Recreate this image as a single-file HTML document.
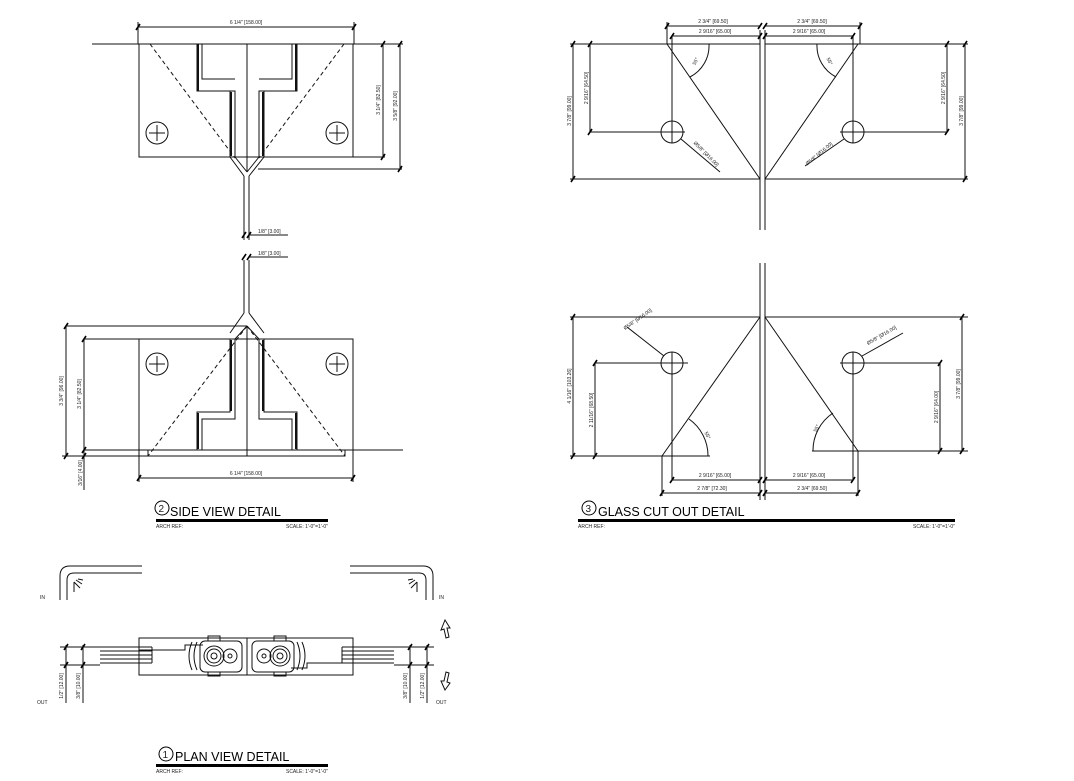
<!DOCTYPE html>
<html><head><meta charset="utf-8"><style>
html,body{margin:0;padding:0;background:#fff;}
svg{display:block;}
text{font-family:"Liberation Sans",sans-serif;fill:#222;}
.s{font-size:5px;}
.t{font-size:12.5px;fill:#000;}
</style></head><body>
<svg width="1074" height="781" viewBox="0 0 1074 781" xmlns="http://www.w3.org/2000/svg">
<g stroke="#111" stroke-width="1" fill="none">
<!-- ===== SIDE VIEW TOP ===== -->
<line x1="92" y1="44" x2="403" y2="44"/>
<rect x="139" y="44" width="214" height="113"/>
<line x1="247" y1="44" x2="247" y2="172"/>
<path d="M197 44V91H235V157M202 44V79H235M230 91V157"/>
<path d="M297 44V91H259V157M292 44V79H259M264 91V157"/>
<path d="M198 44V91M296 44V91M231 92V156M263 92V156" stroke-width="2"/>
<path d="M150 44L235 158M344 44L259 158" stroke-dasharray="4,3"/>
<path d="M230 157L244 176M235 157L247 172M264 157L249 176M259 157L247 172"/>
<path d="M244 176V240M249 176V240"/>
<circle cx="157" cy="133" r="11"/><path d="M149 133H165M157 125V141"/>
<circle cx="337" cy="133" r="11"/><path d="M329 133H345M337 125V141"/>
<line x1="138" y1="27" x2="354" y2="27"/>
<path d="M138 22V44M354 22V44"/>
<line x1="383" y1="44" x2="383" y2="157"/>
<line x1="400" y1="44" x2="400" y2="169"/>
<line x1="258" y1="169" x2="402" y2="169"/>
<line x1="353" y1="157" x2="385" y2="157"/>
<line x1="249" y1="235" x2="288" y2="235"/>
<!-- ===== SIDE VIEW BOTTOM ===== -->
<line x1="249" y1="257" x2="288" y2="257"/>
<path d="M244 260V313M249 260V313"/>
<path d="M244 313L230 333M249 313L264 333M247 326L235 339M247 326L259 339"/>
<line x1="247" y1="326" x2="247" y2="456"/>
<rect x="139" y="339" width="214" height="111"/>
<line x1="84" y1="450" x2="403" y2="450"/>
<rect x="148" y="450" width="197" height="6"/>
<path d="M230 339V412H197V450M235 339V419H202V450M264 339V412H297V450M259 339V419H292V450"/>
<path d="M231 340V411M198 413V449M263 340V411M296 413V449" stroke-width="2"/>
<path d="M247 326L148 456M247 326L345 456" stroke-dasharray="4,3"/>
<circle cx="157" cy="364" r="11"/><path d="M149 364H165M157 356V372"/>
<circle cx="337" cy="364" r="11"/><path d="M329 364H345M337 356V372"/>
<line x1="66" y1="326" x2="247" y2="326"/>
<line x1="84" y1="339" x2="139" y2="339"/>
<line x1="66" y1="326" x2="66" y2="456"/>
<line x1="84" y1="339" x2="84" y2="490"/>
<line x1="62" y1="456" x2="148" y2="456"/>
<line x1="139" y1="478" x2="353" y2="478"/>
<path d="M139 450V482M353 450V482"/>
<!-- ===== GLASS TOP ===== -->
<path d="M760 30V230M765 30V230"/>
<path d="M570 44H760M765 44H968M570 179H760M765 179H968"/>
<path d="M667 44L760 179M858 44L765 179"/>
<path d="M672 36V143M590 132H685M853 36V143M840 132H947"/>
<circle cx="672" cy="132" r="11"/><circle cx="853" cy="132" r="11"/>
<path d="M573 44V179M590 44V132M947 44V132M965 44V179"/>
<path d="M667 26H760M672 36H760M765 26H860M765 36H853M667 22V44M860 22V44"/>
<path d="M709 44A35 35 0 0 1 690 77M817 44A35 35 0 0 0 836 77"/>
<path d="M681 139L720 172M844 139L805 166"/>
<!-- ===== GLASS BOTTOM ===== -->
<path d="M760 263V500M765 263V500"/>
<path d="M570 317H760M765 317H968M570 456H710M812 451H968"/>
<path d="M760 317L662 456M765 317L858 451"/>
<path d="M672 352V480M595 363H688M853 352V480M840 363H940"/>
<circle cx="672" cy="363" r="11"/><circle cx="853" cy="363" r="11"/>
<path d="M573 317V456M595 363V456M940 363V451M962 317V451"/>
<path d="M662 456V496M858 451V496"/>
<path d="M672 480H760M765 480H853M662 493H760M765 493H858"/>
<path d="M689 419A45 45 0 0 1 708 456M833 413A45 45 0 0 0 813 451"/>
<path d="M627 327L664 356M862 356L903 333"/>
<!-- ===== PLAN VIEW ===== -->
<path d="M60 600V576Q60 566 70 566H142M67 600V580Q67 573 74 573H142"/>
<path d="M350 566H423Q433 566 433 576V600M350 573H419Q426 573 426 580V600"/>
<rect x="139" y="638" width="214" height="37"/>
<line x1="247" y1="638" x2="247" y2="675"/>
<path d="M139 650H185V645H203M353 663H307V668H291"/>
<path d="M100 647H152M100 651H152M100 655H152M100 659H152M100 663H152M152 647V663"/>
<path d="M342 647H394M342 651H394M342 655H394M342 659H394M342 663H394M342 647V663"/>
<rect x="200" y="641" width="42" height="31" rx="5"/>
<rect x="252" y="641" width="42" height="31" rx="5"/>
<circle cx="214" cy="656" r="10"/><circle cx="214" cy="656" r="7"/><circle cx="214" cy="656" r="3"/>
<circle cx="230" cy="656" r="7"/><circle cx="230" cy="656" r="2"/>
<circle cx="280" cy="656" r="10"/><circle cx="280" cy="656" r="7"/><circle cx="280" cy="656" r="3"/>
<circle cx="264" cy="656" r="7"/><circle cx="264" cy="656" r="2"/>
<path d="M192 642Q186 656 192 670M197 642Q191 656 197 670M302 642Q308 656 302 670M297 642Q303 656 297 670"/>
<path d="M208 641V636H220V641M208 672V676H220V672M274 641V636H286V641M274 672V676H286V672"/>
<path d="M60 647H100M60 665H100M66 645V703M83 645V703"/>
<path d="M394 647H434M394 665H434M410 645V703M427 645V703"/>
<path d="M445 620L441 630L444 629L446 638L449 637L447 628L450 628Z"/>
<path d="M445 690L441 681L444 681L446 672L449 673L447 682L450 683Z"/>
<path d="M74 582L80 588M76 580L82 584M78 579L83 580M74 582V592M417 582L411 588M415 580L409 584M413 579L408 580M417 582V592"/>
</g>
<!-- ticks -->
<g stroke="#000" stroke-width="1.6">
<path d="M136 30L140 24M352 30L356 24M381 47L385 41M381 160L385 154M398 47L402 41M398 172L402 166M242 238L246 232M247 238L251 232M242 260L246 254M247 260L251 254M64 329L68 323M82 342L86 336M64 459L68 453M82 453L86 447M82 459L86 453M137 481L141 475M351 481L355 475"/>
<path d="M665 29L669 23M758 29L762 23M763 29L767 23M858 29L862 23M670 39L674 33M758 39L762 33M763 39L767 33M851 39L855 33M571 47L575 41M571 182L575 176M588 47L592 41M588 135L592 129M945 47L949 41M945 135L949 129M963 47L967 41M963 182L967 176"/>
<path d="M670 483L674 477M758 483L762 477M763 483L767 477M851 483L855 477M660 496L664 490M758 496L762 490M763 496L767 490M856 496L860 490M571 320L575 314M571 459L575 453M593 366L597 360M593 459L597 453M938 366L942 360M938 454L942 448M960 320L964 314M960 454L964 448"/>
<path d="M64 650L68 644M81 650L85 644M64 668L68 662M81 668L85 662M408 650L412 644M425 650L429 644M408 668L412 662M425 668L429 662"/>
</g>
<!-- title bars -->
<g fill="#000">
<rect x="156" y="519" width="172" height="3"/>
<rect x="578" y="519" width="377" height="3"/>
<rect x="156" y="764" width="172" height="3"/>
</g>
<g fill="none" stroke="#000" stroke-width="1">
<circle cx="162" cy="508" r="7"/><circle cx="589" cy="508" r="7"/><circle cx="166" cy="754" r="7"/>
</g>
<text x="158.5" y="512" style="font-size:10px">2</text>
<text x="585.5" y="512" style="font-size:10px">3</text>
<text x="162.5" y="758" style="font-size:10px">1</text>
<text class="t" x="170" y="516">SIDE VIEW DETAIL</text>
<text class="t" x="598" y="516">GLASS CUT OUT DETAIL</text>
<text class="t" x="175" y="761">PLAN VIEW DETAIL</text>
<text class="s" x="156" y="528">ARCH REF:</text>
<text class="s" x="328" y="528" text-anchor="end">SCALE: 1'-0"=1'-0"</text>
<text class="s" x="578" y="528">ARCH REF:</text>
<text class="s" x="955" y="528" text-anchor="end">SCALE: 1'-0"=1'-0"</text>
<text class="s" x="156" y="773">ARCH REF:</text>
<text class="s" x="328" y="773" text-anchor="end">SCALE: 1'-0"=1'-0"</text>
<!-- dim labels -->
<text class="s" x="246" y="24" text-anchor="middle">6 1/4" [158.00]</text>
<text class="s" x="246" y="475" text-anchor="middle">6 1/4" [158.00]</text>
<text class="s" x="258" y="233">1/8" [3.00]</text>
<text class="s" x="258" y="255">1/8" [3.00]</text>
<text class="s" transform="translate(380,100) rotate(-90)" text-anchor="middle">3 1/4" [82.50]</text>
<text class="s" transform="translate(397,106) rotate(-90)" text-anchor="middle">3 5/8" [92.00]</text>
<text class="s" transform="translate(63,391) rotate(-90)" text-anchor="middle">3 3/4" [96.00]</text>
<text class="s" transform="translate(81,394) rotate(-90)" text-anchor="middle">3 1/4" [82.50]</text>
<text class="s" transform="translate(82,473) rotate(-90)" text-anchor="middle">3/16" [4.00]</text>
<text class="s" x="713" y="23" text-anchor="middle">2 3/4" [69.50]</text>
<text class="s" x="715" y="33" text-anchor="middle">2 9/16" [65.00]</text>
<text class="s" x="812" y="23" text-anchor="middle">2 3/4" [69.50]</text>
<text class="s" x="809" y="33" text-anchor="middle">2 9/16" [65.00]</text>
<text class="s" transform="translate(571,111) rotate(-90)" text-anchor="middle">3 7/8" [99.00]</text>
<text class="s" transform="translate(588,88) rotate(-90)" text-anchor="middle">2 9/16" [64.50]</text>
<text class="s" transform="translate(945,88) rotate(-90)" text-anchor="middle">2 9/16" [64.50]</text>
<text class="s" transform="translate(963,111) rotate(-90)" text-anchor="middle">3 7/8" [99.00]</text>
<text class="s" transform="translate(697,62) rotate(-65)" text-anchor="middle">55°</text>
<text class="s" transform="translate(828,62) rotate(65)" text-anchor="middle">55°</text>
<text class="s" transform="translate(705,155) rotate(45)" text-anchor="middle">Ø5/8" [Ø16.00]</text>
<text class="s" transform="translate(820,155) rotate(-40)" text-anchor="middle">Ø5/8" [Ø16.00]</text>
<text class="s" transform="translate(625,330) rotate(-35)">Ø5/8" [Ø16.00]</text>
<text class="s" transform="translate(868,345) rotate(-30)">Ø5/8" [Ø16.00]</text>
<text class="s" transform="translate(706,436) rotate(65)" text-anchor="middle">55°</text>
<text class="s" transform="translate(818,429) rotate(-65)" text-anchor="middle">55°</text>
<text class="s" transform="translate(571,386) rotate(-90)" text-anchor="middle">4 1/16" [103.26]</text>
<text class="s" transform="translate(593,410) rotate(-90)" text-anchor="middle">2 11/16" [68.50]</text>
<text class="s" transform="translate(938,407) rotate(-90)" text-anchor="middle">2 9/16" [64.00]</text>
<text class="s" transform="translate(960,384) rotate(-90)" text-anchor="middle">3 7/8" [99.00]</text>
<text class="s" x="715" y="477" text-anchor="middle">2 9/16" [65.00]</text>
<text class="s" x="809" y="477" text-anchor="middle">2 9/16" [65.00]</text>
<text class="s" x="712" y="490" text-anchor="middle">2 7/8" [72.30]</text>
<text class="s" x="812" y="490" text-anchor="middle">2 3/4" [69.50]</text>
<text class="s" x="40" y="599">IN</text>
<text class="s" x="439" y="599">IN</text>
<text class="s" x="37" y="704">OUT</text>
<text class="s" x="436" y="704">OUT</text>
<text class="s" transform="translate(63,686) rotate(-90)" text-anchor="middle">1/2" [12.00]</text>
<text class="s" transform="translate(80,686) rotate(-90)" text-anchor="middle">3/8" [10.00]</text>
<text class="s" transform="translate(407,686) rotate(-90)" text-anchor="middle">3/8" [10.00]</text>
<text class="s" transform="translate(424,686) rotate(-90)" text-anchor="middle">1/2" [12.00]</text>
</svg>
</body></html>
